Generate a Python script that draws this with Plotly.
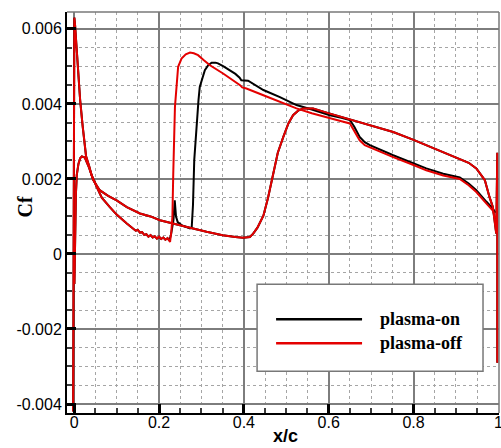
import numpy as np
import plotly.graph_objects as go

# ---------------- data ----------------
# Leading-edge / laminar part of the suction surface, identical for both cases
x_upper_le = [-0.0025, -0.002, -0.001, 0.0003, 0.002, 0.006, 0.010, 0.014, 0.020, 0.028, 0.035, 0.041,
              0.053, 0.065, 0.084, 0.100, 0.124, 0.140, 0.145, 0.150, 0.155, 0.160, 0.165, 0.170,
              0.175, 0.180, 0.185, 0.190, 0.195, 0.200, 0.205, 0.210, 0.215, 0.220, 0.224]
cf_upper_le = [-0.0042, 0.0000, 0.0040, 0.0063, 0.0061, 0.0054, 0.0047, 0.0041, 0.0034, 0.0026, 0.00235, 0.0021,
               0.00179, 0.0015, 0.00125, 0.00105, 0.00081, 0.00068, 0.00062, 0.00064, 0.00057, 0.00058, 0.00051, 0.00053,
               0.00046, 0.00050, 0.00044, 0.00047, 0.00041, 0.00046, 0.00040, 0.00044, 0.00038, 0.00042, 0.00036]

# Suction surface downstream, plasma-on
x_upper_on = [0.228, 0.234, 0.237, 0.240, 0.244, 0.253, 0.263, 0.273, 0.277, 0.280, 0.283, 0.2886, 0.293,
              0.296, 0.302, 0.308, 0.316, 0.324, 0.333, 0.339, 0.352, 0.367, 0.380, 0.390, 0.394, 0.410,
              0.446, 0.485, 0.524, 0.560, 0.603, 0.630, 0.650, 0.660, 0.673, 0.685, 0.697, 0.752, 0.800,
              0.830, 0.870, 0.909, 0.930, 0.948, 0.972, 0.987, 0.993]
cf_upper_on = [0.0005, 0.0009, 0.00143, 0.0010, 0.00085, 0.00077, 0.00072, 0.00068, 0.0007, 0.0013, 0.0025, 0.00348, 0.0041,
               0.00445, 0.0047, 0.0049, 0.00503, 0.0051, 0.0051, 0.00508, 0.0050, 0.0049, 0.0048, 0.0047, 0.00463, 0.00462,
               0.00437, 0.00418, 0.00397, 0.00385, 0.0037, 0.00363, 0.00357, 0.0034, 0.00312, 0.00298, 0.0029, 0.00263, 0.00242,
               0.00228, 0.00214, 0.00204, 0.00188, 0.0017, 0.00139, 0.00121, 0.0011]

# Suction surface downstream, plasma-off
x_upper_off = [0.226, 0.229, 0.2315, 0.2335, 0.2375, 0.245, 0.253, 0.263, 0.273, 0.282, 0.292, 0.305, 0.320,
               0.351, 0.375, 0.391, 0.396, 0.406, 0.446, 0.485, 0.524, 0.560, 0.603, 0.630, 0.650, 0.660,
               0.673, 0.685, 0.697, 0.752, 0.800, 0.830, 0.870, 0.909, 0.930, 0.948, 0.972, 0.987, 0.993]
cf_upper_off = [0.00032, 0.0006, 0.00099, 0.00214, 0.00392, 0.00499, 0.00521, 0.00532, 0.00537, 0.00535, 0.0053, 0.00517, 0.00503,
                0.00481, 0.00463, 0.0045, 0.00444, 0.00441, 0.00423, 0.00405, 0.00388, 0.00375, 0.00361, 0.00354, 0.00348, 0.0033,
                0.00303, 0.0029, 0.00284, 0.00258, 0.00237, 0.00223, 0.00209, 0.002, 0.00183, 0.00165, 0.00134, 0.00116, 0.00095]

# Pressure surface (both cases practically coincide)
x_lower = [0.0005, 0.001, 0.002, 0.004, 0.006, 0.010, 0.014, 0.018, 0.025, 0.035, 0.045, 0.060, 0.080, 0.100,
           0.124, 0.155, 0.180, 0.202, 0.233, 0.250, 0.273, 0.312, 0.350, 0.380, 0.398, 0.414, 0.422, 0.432,
           0.446, 0.457, 0.469, 0.480, 0.493, 0.505, 0.516, 0.528, 0.540, 0.563, 0.603, 0.650, 0.673, 0.697,
           0.752, 0.800, 0.830, 0.870, 0.909, 0.930, 0.948, 0.968, 0.979, 0.987, 0.995, 0.9975, 0.9975]
cf_lower = [-0.0008, -0.0002, 0.0008, 0.0016, 0.0021, 0.0024, 0.00255, 0.0026, 0.00257, 0.0023, 0.00197, 0.0017, 0.00155, 0.00143,
            0.00125, 0.00108, 0.0010, 0.0009, 0.00081, 0.00077, 0.0007, 0.00059, 0.0005, 0.00045, 0.00043, 0.00045, 0.00054, 0.0007,
            0.00102, 0.0015, 0.00214, 0.0027, 0.00312, 0.00348, 0.0037, 0.00382, 0.00388, 0.00388, 0.00374, 0.00358, 0.0035, 0.00343,
            0.00325, 0.00304, 0.0029, 0.00272, 0.00254, 0.00243, 0.00228, 0.00197, 0.00152, 0.00125, 0.00054, 0.0027, -0.0029]

series_names = ["plasma-on", "plasma-off"]
x_tickvals = [0, 0.2, 0.4, 0.6, 0.8, 1.0]
x_ticktext = ["0", "0.2", "0.4", "0.6", "0.8", "1"]
y_tickvals = [-0.004, -0.002, 0, 0.002, 0.004, 0.006]
y_ticktext = ["-0.004", "-0.002", "0", "0.002", "0.004", "0.006"]

# ---------------- figure ----------------
BLACK = "rgb(0,0,0)"
RED = "rgb(228,0,0)"
LW = 2

fig = go.Figure()
# plasma-on (drawn first, red on top)
fig.add_trace(go.Scatter(x=x_upper_le + x_upper_on, y=cf_upper_le + cf_upper_on, mode="lines",
                         line=dict(color=BLACK, width=LW), name=series_names[0], showlegend=False))
fig.add_trace(go.Scatter(x=x_lower, y=cf_lower, mode="lines",
                         line=dict(color=BLACK, width=LW), name=series_names[0], showlegend=False))
# plasma-off
fig.add_trace(go.Scatter(x=x_upper_le + x_upper_off, y=cf_upper_le + cf_upper_off, mode="lines",
                         line=dict(color=RED, width=LW), name=series_names[1], showlegend=False))
fig.add_trace(go.Scatter(x=x_lower, y=cf_lower, mode="lines",
                         line=dict(color=RED, width=LW), name=series_names[1], showlegend=False))

GRID = "rgb(125,125,125)"
MINOR = "rgb(165,165,165)"
tickfont = dict(family="Liberation Sans, Arial, sans-serif", size=16, color="black")

fig.update_xaxes(range=[-0.017, 1.0015], tickmode="array", tickvals=x_tickvals, ticktext=x_ticktext,
                 showgrid=True, gridcolor=GRID, gridwidth=1.5, zeroline=False, automargin=False,
                 showline=True, linecolor="black", linewidth=2,
                 ticks="inside", ticklen=9, tickwidth=2.5, tickcolor="black",
                 tickfont=tickfont, ticklabelstandoff=-6, ticklabeloverflow="allow",
                 minor=dict(tickmode="array", tickvals=[round(v, 2) for v in np.arange(0, 1.0001, 0.05)],
                            ticks="inside", ticklen=5, tickwidth=1.5, tickcolor="rgb(60,60,60)",
                            showgrid=True, gridcolor=MINOR, gridwidth=1, griddash="dot"))
fig.update_yaxes(range=[-0.00424, 0.00645], tickmode="array", tickvals=y_tickvals, ticktext=y_ticktext,
                 showgrid=True, gridcolor=GRID, gridwidth=1.5, zeroline=False, automargin=False,
                 showline=True, linecolor="black", linewidth=2,
                 ticks="inside", ticklen=9, tickwidth=2.5, tickcolor="black",
                 tickfont=tickfont, ticklabelstandoff=0,
                 minor=dict(tickmode="array", tickvals=[round(v, 4) for v in np.arange(-0.004, 0.00641, 0.0005)],
                            ticks="inside", ticklen=5, tickwidth=1.5, tickcolor="rgb(60,60,60)",
                            showgrid=True, gridcolor=MINOR, gridwidth=1, griddash="dot"))

# plot frame (top / right)
fig.add_shape(type="line", xref="paper", yref="paper", x0=0, x1=1, y0=1, y1=1,
              line=dict(color="rgb(120,120,120)", width=1.5))
fig.add_shape(type="line", xref="paper", yref="paper", x0=1, x1=1, y0=0, y1=1,
              line=dict(color="rgb(120,120,120)", width=1.5))

# legend box drawn by hand
fig.add_shape(type="rect", xref="paper", yref="paper", x0=0.44, x1=0.963, y0=0.104, y1=0.321,
              fillcolor="white", line=dict(color="rgb(120,120,120)", width=1.5), layer="above")
leg_rows = [(0.234, BLACK), (0.174, RED)]
for (yy, col), nm in zip(leg_rows, series_names):
    fig.add_shape(type="line", xref="paper", yref="paper", x0=0.484, x1=0.683, y0=yy, y1=yy,
                  line=dict(color=col, width=2.5), layer="above")
    fig.add_annotation(xref="paper", yref="paper", x=0.72, y=yy, xanchor="left", yanchor="middle",
                       text="<b>" + nm + "</b>", showarrow=False,
                       font=dict(family="Liberation Serif, Times New Roman, serif", size=18, color="black"))

# axis titles
fig.add_annotation(xref="paper", yref="paper", x=0.505, y=-0.058, text="<b>x/c</b>", showarrow=False,
                   xanchor="center", yanchor="middle",
                   font=dict(family="Liberation Sans, Arial, sans-serif", size=18, color="black"))
fig.add_annotation(xref="paper", yref="paper", x=-0.097, y=0.513, text="<b>Cf</b>", showarrow=False,
                   textangle=-90, xanchor="center", yanchor="middle",
                   font=dict(family="Liberation Serif, Times New Roman, serif", size=20, color="black"))

fig.update_layout(width=501, height=448, margin=dict(l=67, r=2, t=12, b=35, autoexpand=False),
                  paper_bgcolor="white", plot_bgcolor="white", showlegend=False)

fig.write_html("out.html", config={"displayModeBar": False},
               post_script="document.body.style.margin='0';document.body.style.overflow='hidden';")
